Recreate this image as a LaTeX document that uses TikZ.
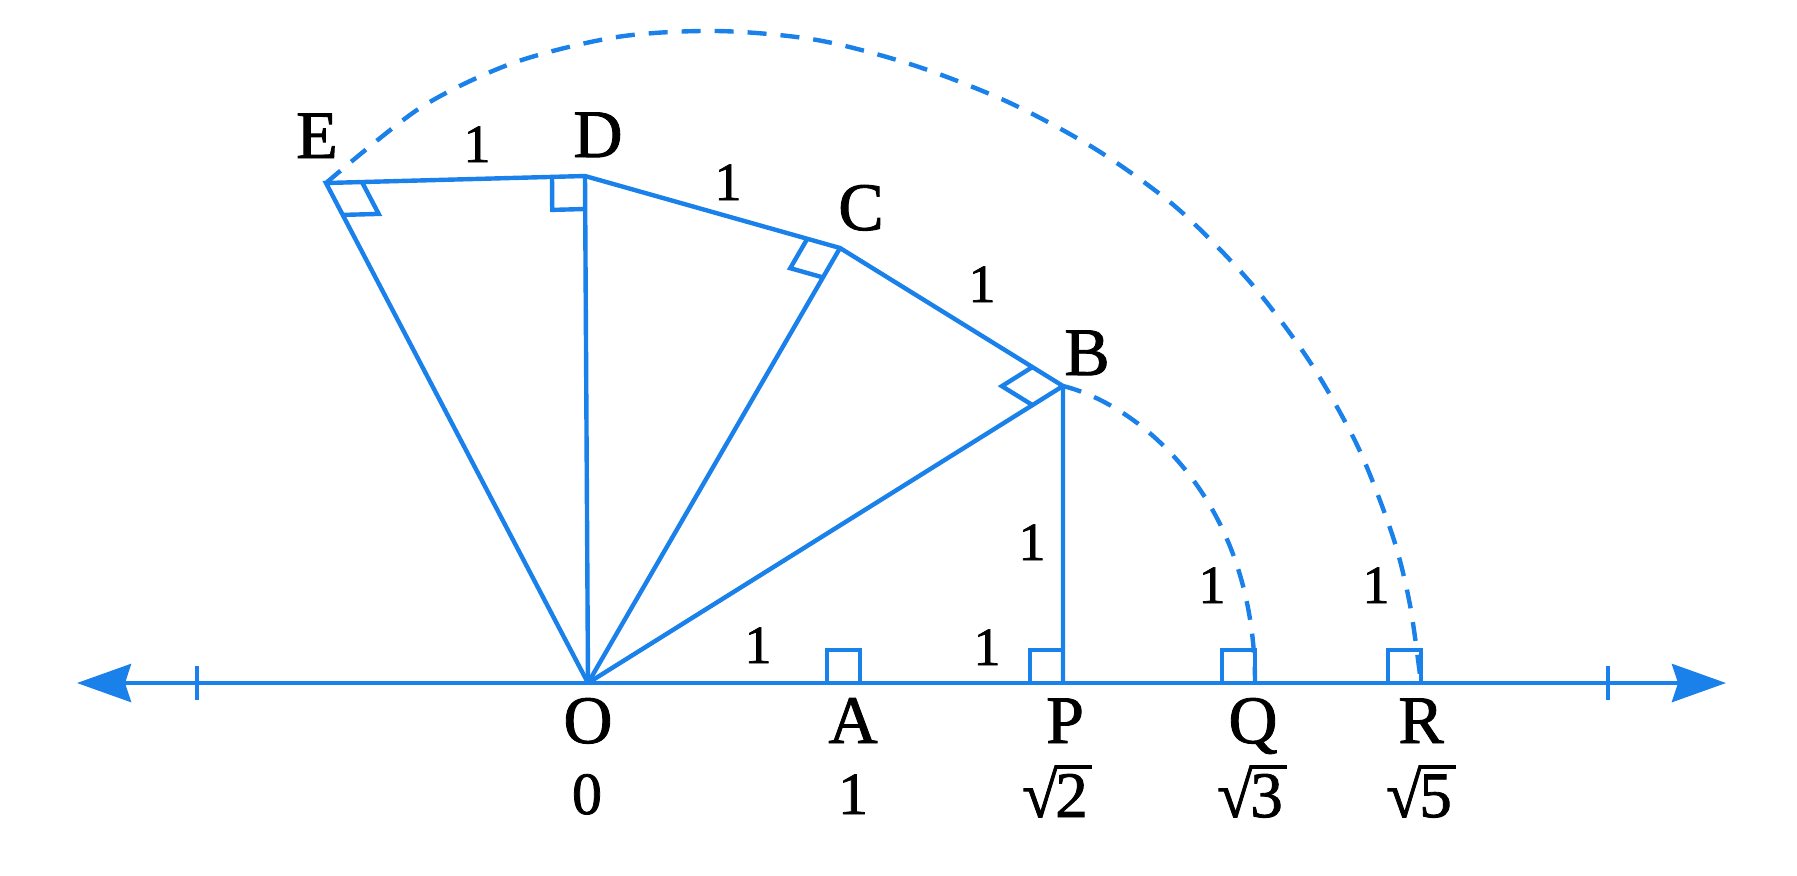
\RequirePackage{fix-cm}
\documentclass[tikz,border=0pt]{standalone}
\usepackage{fontspec}
\setmainfont[FakeBold=1.3]{Liberation Serif}
\usetikzlibrary{arrows.meta,calc}
\definecolor{geoblue}{HTML}{1A80EA}
\newcommand\rmark[4]{%
  \path ($(#1)!#4!(#2)$) coordinate (#1ma) ($(#1)!#4!(#3)$) coordinate (#1mb);
  \draw[geo] (#1ma) -- ($(#1ma)+(#1mb)-(#1)$) -- (#1mb);}
\newcommand\rootof[1]{√\kern-0.04em\rlap{\rule[0.74em]{0.56em}{0.06em}}#1}
\begin{document}
\begin{tikzpicture}[x=0.5pt,y=-0.5pt,
  geo/.style={draw=geoblue,line width=2.2pt},
  arcline/.style={draw=geoblue,line width=2.2pt,dash pattern=on 9.5pt off 7pt},
  ptlabel/.style={anchor=base,inner sep=0pt,font=\fontsize{34}{40}\selectfont},
  edgelabel/.style={anchor=base,inner sep=0pt,font=\fontsize{27}{32}\selectfont},
  numlabel/.style={anchor=base,inner sep=0pt,font=\fontsize{30}{36}\selectfont},
  rootlabel/.style={anchor=base,inner sep=0pt,font=\fontsize{32.5}{38}\selectfont},
  axisarrow/.style={{Stealth[length=27pt,width=19pt,inset=3pt]}-{Stealth[length=27pt,width=19pt,inset=3pt]}}]
\path[fill=white] (0,0) rectangle (1797,875);
\useasboundingbox (0,0) rectangle (1797,875);
% points
\coordinate (O) at (588,683);
\coordinate (A) at (860,683);
\coordinate (P) at (1063,683);
\coordinate (Q) at (1255,683);
\coordinate (R) at (1421,683);
\coordinate (B) at (1063,386);
\coordinate (C) at (840,248);
\coordinate (D) at (585,176);
\coordinate (E) at (326,183);
\coordinate (Lt) at (77,683);
\coordinate (Rt) at (1726,683);
\coordinate (tL) at (197,683);
\coordinate (tR) at (1608,683);
% axis
\draw[geo,axisarrow] (Lt) -- (Rt);
\draw[geo] ($(tL)+(0,-17)$) -- ($(tL)+(0,17)$);
\draw[geo] ($(tR)+(0,-17)$) -- ($(tR)+(0,17)$);
% spiral
\draw[geo,line join=miter] (O) -- (E) -- (D) -- (C) -- (B) -- (P);
\draw[geo] (O) -- (D);
\draw[geo] (O) -- (C);
\draw[geo] (O) -- (B);
% right angle marks
\rmark{E}{D}{O}{18pt}
\rmark{D}{E}{O}{16.5pt}
\rmark{C}{D}{O}{17pt}
\rmark{B}{C}{O}{18pt}
\draw[geo] (A) ++(-33,0) |- ($(A)+(0,-33)$) -- (A);
\draw[geo] (P) ++(-33,0) |- ($(P)+(0,-33)$);
\draw[geo] (Q) ++(-33,0) |- ($(Q)+(0,-33)$) -- (Q);
\draw[geo] (R) ++(-33,0) |- ($(R)+(0,-33)$) -- (R);
% arcs
\draw[arcline] (B) .. controls (1140,405) and (1255,500) .. (Q);
\draw[arcline] plot[smooth] coordinates {(E) (420,108) (513,63) (617,37) (717,31) (817,40) (913,65) (1008,102) (1097,150) (1177,208) (1250,282) (1310,362) (1358,447) (1393,537) (1410,605) (R)};
% point labels
\node[ptlabel] (lE) at (317,158) {E};
\node[ptlabel] (lD) at (598,157) {D};
\node[ptlabel] (lC) at (861,230) {C};
\node[ptlabel] (lB) at (1087,375) {B};
\node[ptlabel] (lO) at (588,743) {O};
\node[ptlabel] (lA) at (853,743) {A};
\node[ptlabel] (lP) at (1065,743) {P};
\node[ptlabel] (lQ) at (1253,743) {Q};
\node[ptlabel] (lR) at (1421,743) {R};
% edge labels
\node[edgelabel] (e1) at (477,162) {1};
\node[edgelabel] (e2) at (728,200) {1};
\node[edgelabel] (e3) at (982,302) {1};
\node[edgelabel] (e4) at (1032,560) {1};
\node[edgelabel] (e5) at (1212,603) {1};
\node[edgelabel] (e6) at (1376,603) {1};
\node[edgelabel] (e7) at (987,665) {1};
\node[edgelabel] (e8) at (758,663) {1};
% values
\node[numlabel] (v0) at (587,814) {0};
\node[numlabel] (v1) at (853,814) {1};
\node[rootlabel] (v2) at (1055,817) {\rootof{2}};
\node[rootlabel] (v3) at (1250,817) {\rootof{3}};
\node[rootlabel] (v5) at (1419,817) {\rootof{5}};
\end{tikzpicture}
\end{document}
